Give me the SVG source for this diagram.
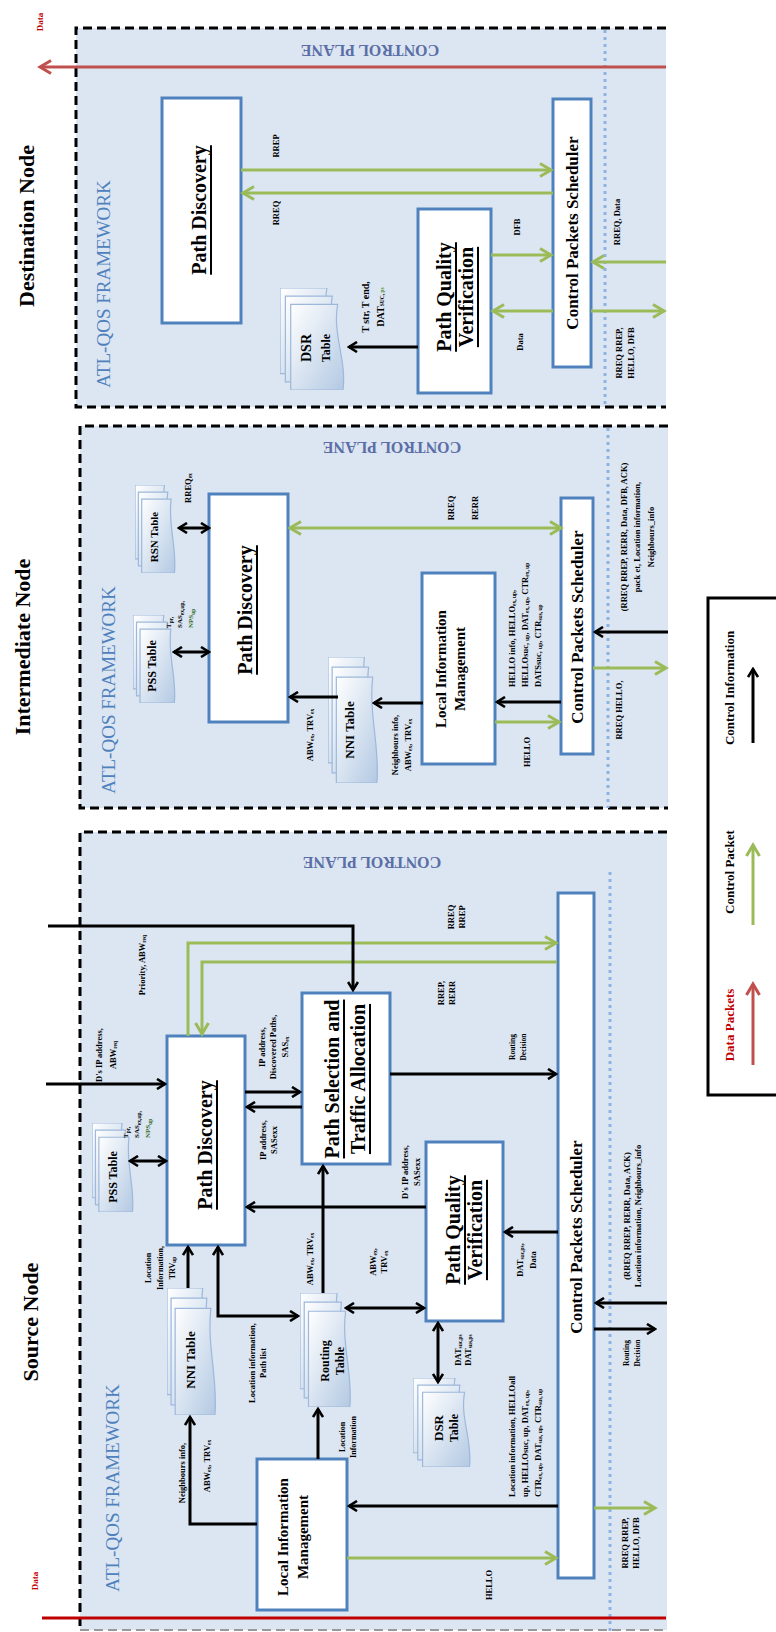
<svg xmlns="http://www.w3.org/2000/svg" width="776" height="1632" viewBox="0 0 776 1632">
<style>
.pan{fill:#dce6f2}
.box{fill:#fff;stroke:#4f81bd;stroke-width:3}
.dash{fill:none;stroke:#000;stroke-width:3;stroke-dasharray:9 5}
.dot{fill:none;stroke:#8db3e2;stroke-width:3;stroke-dasharray:3 4}
.k{fill:none;stroke:#000;stroke-width:3}
.g{fill:none;stroke:#9bbb59;stroke-width:3}
.r{fill:none;stroke:#c0504d;stroke-width:3}
.s{font-family:"Liberation Serif",serif;font-weight:bold;text-anchor:middle;dominant-baseline:central;fill:#000}
.st{text-anchor:start}
.l{font-size:8.5px}
.sb{font-size:5.5px}
.cp{font-size:16px;fill:#5b6ea5}
.fw{font-size:19px;fill:#4f81bd;font-weight:normal}
.ttl{font-size:22px}
.bx{font-size:20px;text-decoration:underline}
.cps{font-size:17px}
.lim{font-size:15px}
.leg{font-size:13px}
</style>
<defs>
<linearGradient id="dg" x1="0" y1="0" x2="1" y2="1">
<stop offset="0" stop-color="#ffffff"/><stop offset="1" stop-color="#b3c9e3"/>
</linearGradient>
<symbol id="doc" viewBox="0 0 100 100" preserveAspectRatio="none">
<path d="M0,0 H70 C62,30 92,55 78,84 H0 Z" fill="url(#dg)" stroke="#9db8da" stroke-width="1.2" vector-effect="non-scaling-stroke"/>
<path d="M8,8 H78 C70,38 100,63 86,92 H8 Z" fill="url(#dg)" stroke="#9db8da" stroke-width="1.2" vector-effect="non-scaling-stroke"/>
<path d="M16,16 H86 C78,46 100,71 94,100 H16 Z" fill="url(#dg)" stroke="#9db8da" stroke-width="1.2" vector-effect="non-scaling-stroke"/>
</symbol>
<marker id="ak" viewBox="0 0 12 12" refX="10" refY="6" markerWidth="12" markerHeight="12" markerUnits="userSpaceOnUse" orient="auto-start-reverse">
<path d="M2,1 L10,6 L2,11" fill="none" stroke="#000" stroke-width="2.6"/>
</marker>
<marker id="ag" viewBox="0 0 16 16" refX="13" refY="8" markerWidth="16" markerHeight="16" markerUnits="userSpaceOnUse" orient="auto-start-reverse">
<path d="M2,1.5 L13,8 L2,14.5" fill="none" stroke="#9bbb59" stroke-width="3"/>
</marker>
<marker id="ar" viewBox="0 0 16 16" refX="13" refY="8" markerWidth="16" markerHeight="16" markerUnits="userSpaceOnUse" orient="auto-start-reverse">
<path d="M2,1.5 L13,8 L2,14.5" fill="none" stroke="#c0504d" stroke-width="3"/>
</marker>
</defs>

<!-- Panels -->
<g id="panels">
<rect class="pan" x="76" y="28" width="590" height="379"/>
<path class="dash" d="M666,28 H76 V407 H666"/>
<line class="dot" x1="605" y1="30" x2="605" y2="407"/>
<rect class="pan" x="80" y="426" width="588" height="382"/>
<path class="dash" d="M668,426 H80 V808 H668"/>
<line class="dot" x1="608" y1="428" x2="608" y2="808"/>
<rect class="pan" x="80" y="832" width="587" height="798"/>
<path class="dash" d="M667,832 H80 V1630"/>
<path d="M80,1630 H667" fill="none" stroke="#999" stroke-width="2" stroke-dasharray="9 5"/>
<line class="dot" x1="610" y1="872" x2="610" y2="1632"/>
</g>

<!-- Titles -->
<g id="titles">
<text class="s ttl" transform="translate(26,226) rotate(-90)">Destination Node</text>
<text class="s ttl" transform="translate(22,647) rotate(-90)">Intermediate Node</text>
<text class="s ttl" transform="translate(30,1322) rotate(-90)">Source Node</text>
<text class="s" style="font-size:9px;fill:#c00000" transform="translate(40,22) rotate(-90)">Data</text>
<text class="s" style="font-size:9px;fill:#c00000" transform="translate(35,1581) rotate(-90)">Data</text>
<text class="s cp" transform="translate(370,50) rotate(180)">CONTROL PLANE</text>
<text class="s cp" transform="translate(392,447) rotate(180)">CONTROL PLANE</text>
<text class="s cp" transform="translate(372,862) rotate(180)">CONTROL PLANE</text>
<text class="s fw" transform="translate(103,284) rotate(-90)">ATL-QOS FRAMEWORK</text>
<text class="s fw" transform="translate(108,690) rotate(-90)">ATL-QOS FRAMEWORK</text>
<text class="s fw" transform="translate(112,1488) rotate(-90)">ATL-QOS FRAMEWORK</text>
</g>

<!-- Destination node -->
<g id="d-pd"><rect class="box" x="162" y="98" width="79" height="225"/><text class="s bx" transform="translate(199,210) rotate(-90)">Path Discovery</text></g>
<g id="d-cps"><rect class="box" x="553" y="99" width="38" height="268"/><text class="s cps" transform="translate(572,233) rotate(-90)">Control Packets Scheduler</text></g>
<g id="d-pqv"><rect class="box" x="418" y="209" width="73" height="184"/><text class="s bx" transform="translate(455,297) rotate(-90)"><tspan x="0" dy="-11">Path Quality</tspan><tspan x="0" dy="22">Verification</tspan></text></g>
<g id="d-dsr"><use href="#doc" x="280" y="288" width="67" height="102"/><text class="s" transform="translate(316,348) rotate(-90)"><tspan x="0" dy="-10" style="font-size:14px">DSR</tspan><tspan x="0" dy="20" style="font-size:12px">Table</tspan></text></g>

<!-- Intermediate node -->
<g id="i-pd"><rect class="box" x="209" y="494" width="79" height="228"/><text class="s bx" transform="translate(245,610) rotate(-90)">Path Discovery</text></g>
<g id="i-rsn"><use href="#doc" x="135" y="485" width="42" height="88"/><text class="s" style="font-size:11px" transform="translate(154,537) rotate(-90)">RSN Table</text></g>
<g id="i-pss"><use href="#doc" x="133" y="615" width="44" height="88"/><text class="s" style="font-size:12px" transform="translate(152,666) rotate(-90)">PSS Table</text></g>
<g id="i-nni"><use href="#doc" x="328" y="657" width="52" height="126"/><text class="s" style="font-size:13px" transform="translate(349,730) rotate(-90)">NNI Table</text></g>
<g id="i-lim"><rect class="box" x="422" y="573" width="73" height="191"/><text class="s lim" transform="translate(450,669) rotate(-90)"><tspan x="0" dy="-9.5">Local Information</tspan><tspan x="0" dy="19">Management</tspan></text></g>
<g id="i-cps"><rect class="box" x="561" y="498" width="32" height="256"/><text class="s cps" transform="translate(577,627) rotate(-90)">Control Packets Scheduler</text></g>

<!-- Source node -->
<g id="s-pd"><rect class="box" x="167" y="1036" width="78" height="209"/><text class="s bx" transform="translate(205,1145) rotate(-90)">Path Discovery</text></g>
<g id="s-psta"><rect class="box" x="302" y="993" width="88" height="171"/><text class="s bx" transform="translate(345,1079) rotate(-90)"><tspan x="0" dy="-13">Path Selection and</tspan><tspan x="0" dy="26">Traffic Allocation</tspan></text></g>
<g id="s-pqv"><rect class="box" x="426" y="1142" width="77" height="179"/><text class="s bx" transform="translate(464,1230) rotate(-90)"><tspan x="0" dy="-11">Path Quality</tspan><tspan x="0" dy="22">Verification</tspan></text></g>
<g id="s-cps"><rect class="box" x="558" y="893" width="36" height="685"/><text class="s cps" transform="translate(576,1237) rotate(-90)">Control Packets Scheduler</text></g>
<g id="s-lim"><rect class="box" x="257" y="1459" width="90" height="151"/><text class="s lim" transform="translate(293,1537) rotate(-90)"><tspan x="0" dy="-10">Local Information</tspan><tspan x="0" dy="20">Management</tspan></text></g>
<g id="s-pss"><use href="#doc" x="92" y="1123" width="43" height="89"/><text class="s" style="font-size:12px" transform="translate(113,1177) rotate(-90)">PSS Table</text></g>
<g id="s-nni"><use href="#doc" x="167" y="1288" width="51" height="127"/><text class="s" style="font-size:13px" transform="translate(190,1360) rotate(-90)">NNI Table</text></g>
<g id="s-rt"><use href="#doc" x="300" y="1293" width="53" height="114"/><text class="s" style="font-size:12px" transform="translate(332,1361) rotate(-90)"><tspan x="0" dy="-7.5">Routing</tspan><tspan x="0" dy="15">Table</tspan></text></g>
<g id="s-dsr"><use href="#doc" x="413" y="1378" width="60" height="89"/><text class="s" transform="translate(446,1428) rotate(-90)"><tspan x="0" dy="-8" style="font-size:13px">DSR</tspan><tspan x="0" dy="16" style="font-size:12px">Table</tspan></text></g>

<!-- Connectors -->
<g id="connectors">
<path class="r" d="M666,67 H40" marker-end="url(#ar)"/>
<path class="g" d="M241,170 H551" marker-end="url(#ag)"/>
<path class="g" d="M553,193 H243" marker-end="url(#ag)"/>
<path class="g" d="M491,255 H551" marker-end="url(#ag)"/>
<path class="g" d="M553,311 H493" marker-end="url(#ag)"/>
<path class="g" d="M666,262 H593" marker-end="url(#ag)"/>
<path class="g" d="M591,311 H664" marker-end="url(#ag)"/>
<path class="k" d="M418,347 H349" marker-end="url(#ak)"/>

<path class="g" d="M290,528 H561" marker-start="url(#ag)" marker-end="url(#ag)"/>
<path class="k" d="M179,528 H209" marker-start="url(#ak)" marker-end="url(#ak)"/>
<path class="k" d="M174,652 H209" marker-start="url(#ak)" marker-end="url(#ak)"/>
<path class="k" d="M338,697 H290" marker-end="url(#ak)"/>
<path class="k" d="M423,703 H374" marker-end="url(#ak)"/>
<path class="k" d="M561,702 H497" marker-end="url(#ak)"/>
<path class="g" d="M495,722 H559" marker-end="url(#ag)"/>
<path class="k" d="M668,632 H595" marker-end="url(#ak)"/>
<path class="g" d="M593,668 H666" marker-end="url(#ag)"/>

<path class="g" d="M188,1036 V943 H556" marker-end="url(#ag)"/>
<path class="g" d="M557,962 H202 V1034" marker-end="url(#ag)"/>
<path class="k" d="M48,926 H353 V990" marker-end="url(#ak)"/>
<path class="k" d="M46,1084 H165" marker-end="url(#ak)"/>
<path class="k" d="M245,1092 H300" marker-end="url(#ak)"/>
<path class="k" d="M302,1107 H247" marker-end="url(#ak)"/>
<path class="k" d="M130,1161 H166" marker-start="url(#ak)" marker-end="url(#ak)"/>
<path class="k" d="M426,1207 H247" marker-end="url(#ak)"/>
<path class="k" d="M188,1288 V1247" marker-end="url(#ak)"/>
<path class="k" d="M218,1247 V1316 H298" marker-start="url(#ak)" marker-end="url(#ak)"/>
<path class="k" d="M323,1293 V1166" marker-end="url(#ak)"/>
<path class="k" d="M346,1308 H424" marker-start="url(#ak)" marker-end="url(#ak)"/>
<path class="k" d="M558,1232 H505" marker-end="url(#ak)"/>
<path class="k" d="M438,1323 V1382" marker-start="url(#ak)" marker-end="url(#ak)"/>
<path class="k" d="M390,1074 H556" marker-end="url(#ak)"/>
<path class="k" d="M667,1303 H596" marker-end="url(#ak)"/>
<path class="k" d="M594,1329 H655" marker-end="url(#ak)"/>
<path class="g" d="M594,1508 H655" marker-end="url(#ag)"/>
<path class="k" d="M318,1459 V1409" marker-end="url(#ak)"/>
<path class="k" d="M257,1524 H190 V1417" marker-end="url(#ak)"/>
<path class="k" d="M558,1506 H349" marker-end="url(#ak)"/>
<path class="g" d="M347,1558 H556" marker-end="url(#ag)"/>
<path d="M42,1618 H666" fill="none" stroke="#c00000" stroke-width="3"/>
</g>

<!-- Labels -->
<g id="labels">
<text class="s l" transform="translate(276,146) rotate(-90)">RREP</text>
<text class="s l" transform="translate(276,213) rotate(-90)">RREQ</text>
<text class="s l" transform="translate(517,227) rotate(-90)">DFB</text>
<text class="s l" transform="translate(520,342) rotate(-90)">Data</text>
<text class="s l" transform="translate(617,222) rotate(-90)">RREQ, Data</text>
<text class="s l" transform="translate(625,353) rotate(-90)"><tspan x="0" dy="-6">RREQ RREP,</tspan><tspan x="0" dy="12">HELLO, DFB</tspan></text>
<text class="s" style="font-size:10px" transform="translate(372,307) rotate(-90)"><tspan x="0" dy="-7.5">T str, T end,</tspan><tspan x="0" dy="15">DAT</tspan><tspan class="sb" dy="2">SUC,</tspan><tspan class="sb" fill="#4e8f2a"> ps</tspan></text>

<text class="s l" transform="translate(188,488) rotate(-90)">RREQ<tspan class="sb" dy="2">ex</tspan></text>
<text class="s st" style="font-size:7px" transform="translate(180,628) rotate(-90)"><tspan x="0" dy="-11">T</tspan><tspan class="sb" dy="2">pr,</tspan><tspan x="0" dy="9">SAS</tspan><tspan class="sb" dy="2">ex,up,</tspan><tspan x="0" dy="9" fill="#2e6b1e">NPS</tspan><tspan class="sb" dy="2" fill="#2e6b1e">up</tspan></text>
<text class="s l" transform="translate(310,735) rotate(-90)">ABW<tspan class="sb" dy="2">ex</tspan><tspan dy="-2">, TRV</tspan><tspan class="sb" dy="2">ex</tspan></text>
<text class="s l" transform="translate(401,745) rotate(-90)"><tspan x="0" dy="-6.5">Neighbours info,</tspan><tspan x="0" dy="13">ABW</tspan><tspan class="sb" dy="2">ex</tspan><tspan dy="-2">, TRV</tspan><tspan class="sb" dy="2">ex</tspan></text>
<text class="s l" transform="translate(451,508) rotate(-90)">RREQ</text>
<text class="s l" transform="translate(475,508) rotate(-90)">RERR</text>
<text class="s l st" transform="translate(525,687) rotate(-90)"><tspan x="0" dy="-13">HELLO info, HELLO</tspan><tspan class="sb" dy="2">ex, up</tspan><tspan dy="-2">,</tspan><tspan x="0" dy="13">HELLOsuc, </tspan><tspan class="sb" dy="2">up</tspan><tspan dy="-2">, DAT</tspan><tspan class="sb" dy="2">ex, up</tspan><tspan dy="-2">, CTR</tspan><tspan class="sb" dy="2">ex, up</tspan><tspan x="0" dy="11">DATSsuc, </tspan><tspan class="sb" dy="2">up</tspan><tspan dy="-2">, CTR</tspan><tspan class="sb" dy="2">sus, up</tspan></text>
<text class="s l" transform="translate(527,752) rotate(-90)">HELLO</text>
<text class="s l" transform="translate(637,537) rotate(-90)"><tspan x="0" dy="-13.5">(RREQ RREP, RERR, Data, DFB, ACK)</tspan><tspan x="0" dy="13.5">pack et, Location information,</tspan><tspan x="0" dy="13.5">Neighbours_info</tspan></text>
<text class="s l" transform="translate(619,710) rotate(-90)">RREQ HELLO,</text>

<text class="s l" transform="translate(142,965) rotate(-90)">Priority, ABW<tspan class="sb" dy="2">req</tspan></text>
<text class="s l" transform="translate(106,1055) rotate(-90)"><tspan x="0" dy="-7">D's IP address,</tspan><tspan x="0" dy="14">ABW</tspan><tspan class="sb" dy="2">req</tspan></text>
<text class="s l" transform="translate(273,1047) rotate(-90)"><tspan x="0" dy="-11.5">IP address,</tspan><tspan x="0" dy="11.5">Discovered Paths,</tspan><tspan x="0" dy="11.5">SAS</tspan><tspan class="sb" dy="2">ex</tspan></text>
<text class="s l" transform="translate(268,1140) rotate(-90)"><tspan x="0" dy="-5.5">IP address,</tspan><tspan x="0" dy="11">SASexx</tspan></text>
<text class="s l" transform="translate(456,917) rotate(-90)"><tspan x="0" dy="-5.5">RREQ</tspan><tspan x="0" dy="11">RREP</tspan></text>
<text class="s l" transform="translate(446,993) rotate(-90)"><tspan x="0" dy="-5.5">RREP,</tspan><tspan x="0" dy="11">RERR</tspan></text>
<text class="s" style="font-size:7.5px" transform="translate(517,1047) rotate(-90)"><tspan x="0" dy="-5.5">Routing</tspan><tspan x="0" dy="11">Decision</tspan></text>
<text class="s st" style="font-size:7px" transform="translate(137,1138) rotate(-90)"><tspan x="0" dy="-11">T</tspan><tspan class="sb" dy="2">pr,</tspan><tspan x="0" dy="9">SAS</tspan><tspan class="sb" dy="2">ex,up,</tspan><tspan x="0" dy="9" fill="#2e6b1e">NPS</tspan><tspan class="sb" dy="2" fill="#2e6b1e">up</tspan></text>
<text class="s" style="font-size:8px" transform="translate(160,1268) rotate(-90)"><tspan x="0" dy="-12">Location</tspan><tspan x="0" dy="12">Information,</tspan><tspan x="0" dy="12">TRV</tspan><tspan class="sb" dy="2">up</tspan></text>
<text class="s l" transform="translate(257,1363) rotate(-90)"><tspan x="0" dy="-5.5">Location information,</tspan><tspan x="0" dy="11">Path list</tspan></text>
<text class="s l" transform="translate(310,1259) rotate(-90)">ABW<tspan class="sb" dy="2">ex</tspan><tspan dy="-2">, TRV</tspan><tspan class="sb" dy="2">ex</tspan></text>
<text class="s l" transform="translate(378,1262) rotate(-90)"><tspan x="0" dy="-5.5">ABW</tspan><tspan class="sb" dy="2">ex</tspan><tspan dy="-2">,</tspan><tspan x="0" dy="11">TRV</tspan><tspan class="sb" dy="2">ex</tspan></text>
<text class="s l" transform="translate(411,1172) rotate(-90)"><tspan x="0" dy="-6">D's IP address,</tspan><tspan x="0" dy="12">SASexx</tspan></text>
<text class="s l" transform="translate(526,1260) rotate(-90)"><tspan x="0" dy="-6.5">DAT</tspan><tspan class="sb" dy="2">suc,ps</tspan><tspan dy="-2">,</tspan><tspan x="0" dy="13">Data</tspan></text>
<text class="s l" transform="translate(463,1350) rotate(-90)"><tspan x="0" dy="-5">DAT</tspan><tspan class="sb" dy="2">suc,ps</tspan><tspan x="0" dy="8">DAT</tspan><tspan class="sb" dy="2">sus,ps</tspan></text>
<text class="s l" transform="translate(632,1216) rotate(-90)"><tspan x="0" dy="-5.5">(RREQ RREP, RERR, Data, ACK)</tspan><tspan x="0" dy="11">Location information, Neighbours_info</tspan></text>
<text class="s" style="font-size:7.5px" transform="translate(631,1353) rotate(-90)"><tspan x="0" dy="-5.5">Routing</tspan><tspan x="0" dy="11">Decision</tspan></text>
<text class="s l" transform="translate(630,1543) rotate(-90)"><tspan x="0" dy="-5.5">RREQ RREP,</tspan><tspan x="0" dy="11">HELLO, DFB</tspan></text>
<text class="s" style="font-size:8px" transform="translate(347,1437) rotate(-90)"><tspan x="0" dy="-5.5">Location</tspan><tspan x="0" dy="11">Information</tspan></text>
<text class="s l" transform="translate(182,1473) rotate(-90)">Neighbours info,</text>
<text class="s l" transform="translate(207,1466) rotate(-90)">ABW<tspan class="sb" dy="2">ex</tspan><tspan dy="-2">, TRV</tspan><tspan class="sb" dy="2">ex</tspan></text>
<text class="s l st" transform="translate(525,1497) rotate(-90)"><tspan x="0" dy="-13">Location information, HELLOall</tspan><tspan x="0" dy="13">up, HELLOsuc, up, DAT</tspan><tspan class="sb" dy="2">ex, up</tspan><tspan dy="-2">,</tspan><tspan x="0" dy="13">CTR</tspan><tspan class="sb" dy="2">ex, up</tspan><tspan dy="-2">, DAT</tspan><tspan class="sb" dy="2">sus, up</tspan><tspan dy="-2">, CTR</tspan><tspan class="sb" dy="2">sus, up</tspan></text>
<text class="s l" transform="translate(489,1585) rotate(-90)">HELLO</text>
</g>

<!-- Legend -->
<g id="legend">
<rect x="708" y="598" width="80" height="497" fill="#fff" stroke="#000" stroke-width="3"/>
<text class="s leg" transform="translate(729,688) rotate(-90)">Control Information</text>
<path class="k" d="M753,743 V669" marker-end="url(#ak)"/>
<text class="s leg" transform="translate(729,872) rotate(-90)">Control Packet</text>
<path class="g" d="M753,925 V845" marker-end="url(#ag)"/>
<text class="s leg" style="fill:#c00000" transform="translate(729,1025) rotate(-90)">Data Packets</text>
<path class="r" d="M753,1065 V984" marker-end="url(#ar)"/>
</g>
</svg>
